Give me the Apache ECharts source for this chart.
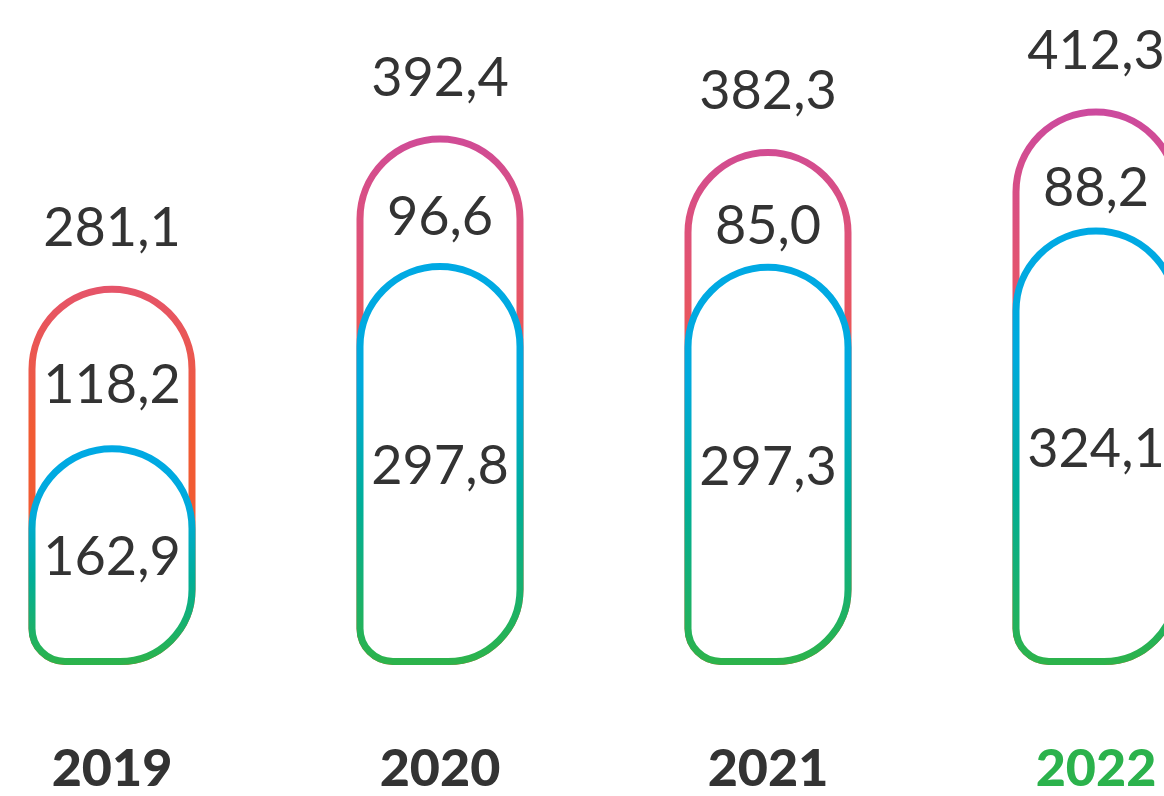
<!DOCTYPE html>
<html>
<head>
<meta charset="utf-8">
<script src="https://cdn.jsdelivr.net/npm/echarts@6/dist/echarts.min.js"></script>
<style>
html,body{margin:0;padding:0;background:#fff;}
#chart{width:1164px;height:796px;}
</style>
</head>
<body>
<div id="chart"></div>
<script>
const years = ['2019', '2020', '2021', '2022'];
const totals = [281.1, 392.4, 382.3, 412.3];
const upperPart = [118.2, 96.6, 85.0, 88.2];
const lowerPart = [162.9, 297.8, 297.3, 324.1];
const highlightYear = '2022';

const fmt = v => Number(v).toFixed(1).replace('.', ',');
const chart = echarts.init(document.getElementById('chart'));

const outerStroke = new echarts.graphic.LinearGradient(0, 110, 0, 430, [
  {offset: 0, color: '#cc4a9e'},
  {offset: 0.55, color: '#e5546a'},
  {offset: 1, color: '#f15b33'}
], true);
const innerStroke = new echarts.graphic.LinearGradient(0, 0, 0, 1, [
  {offset: 0, color: '#00a9e4'},
  {offset: 0.3, color: '#00aadc'},
  {offset: 0.6, color: '#00ae98'},
  {offset: 1, color: '#2db34a'}
]);

const FONT = 'Lato';
const radius = [84, 84, 72, 33];

chart.setOption({
  animation: false,
  grid: {left: -52, width: 1312, top: 1, bottom: 131, containLabel: false, outerBoundsMode: 'none'},
  xAxis: {
    type: 'category',
    data: years,
    axisLine: {show: false},
    axisTick: {show: false},
    axisLabel: {
      margin: 78,
      fontFamily: FONT,
      fontWeight: 900,
      fontSize: 52,
      lineHeight: 52,
      color: (v) => v === highlightYear ? '#2bb24c' : '#333333'
    }
  },
  yAxis: {type: 'value', min: 0, max: 492, show: false, splitLine: {show: false}},
  series: [
    {
      name: 'total',
      type: 'bar',
      data: totals,
      barWidth: 167,
      barGap: '-100%',
      itemStyle: {color: '#ffffff', borderColor: outerStroke, borderWidth: 7, borderRadius: radius},
      label: {
        show: true, position: 'top', distance: 30,
        fontFamily: FONT, fontSize: 54, lineHeight: 54, color: '#333333',
        formatter: p => fmt(p.value)
      }
    },
    {
      name: 'lower',
      type: 'bar',
      stack: 'a',
      data: lowerPart,
      barWidth: 167,
      barGap: '-100%',
      itemStyle: {color: '#ffffff', borderColor: innerStroke, borderWidth: 7, borderRadius: radius},
      label: {
        show: true, position: 'inside', offset: [0, 3],
        fontFamily: FONT, fontSize: 54, lineHeight: 54, color: '#333333',
        formatter: p => fmt(p.value)
      }
    },
    {
      name: 'upper',
      type: 'bar',
      stack: 'a',
      data: upperPart,
      barWidth: 167,
      barGap: '-100%',
      itemStyle: {color: 'rgba(0,0,0,0)', borderWidth: 0},
      label: {
        show: true, position: 'inside', offset: [0, 20],
        fontFamily: FONT, fontSize: 54, lineHeight: 54, color: '#333333',
        formatter: p => fmt(p.value)
      }
    }
  ]
});
</script>
</body>
</html>
